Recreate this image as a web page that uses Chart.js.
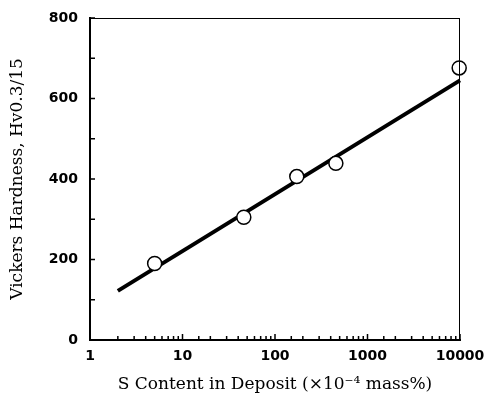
<!DOCTYPE html>
<html>
<head>
<meta charset="utf-8">
<script src="https://cdn.jsdelivr.net/npm/chart.js@4/dist/chart.umd.min.js"></script>
<style>
    html, body { margin: 0; padding: 0; background: #fff; }
    #wrap { width: 484px; height: 397px; }
</style>
</head>
<body>
<div id="wrap"><canvas id="hardnessChart" width="484" height="397"></canvas></div>
<script>
// Measured points (S content x10^-4 mass%, Hv0.3/15)
const sContent = [5, 46, 172, 455, 9800];
const hardness = [190, 305, 406, 439, 676];

// Fitted line end points
const fitX = [2, 10000];
const fitY = [122, 645];

// Axis ticks
const xTickLabels = [1, 10, 100, 1000, 10000];
const yTickLabels = [0, 200, 400, 600, 800];

const serif = '"DejaVu Serif", "Liberation Serif", serif';
const sans = '"DejaVu Sans", "Liberation Sans", sans-serif';

// Inward ticks + thin frame on top and right
const frameTicks = {
    id: 'frameTicks',
    afterDraw(chart) {
        const ctx = chart.ctx;
        const area = chart.chartArea;
        const xs = chart.scales.x;
        const ys = chart.scales.y;
        ctx.save();
        ctx.strokeStyle = '#000';
        ctx.lineWidth = 1;
        ctx.beginPath();
        ctx.moveTo(area.left, area.top + 0.5);
        ctx.lineTo(area.right, area.top + 0.5);
        ctx.moveTo(area.right - 0.5, area.top);
        ctx.lineTo(area.right - 0.5, area.bottom);
        ctx.stroke();

        ctx.lineWidth = 1.5;
        ctx.beginPath();
        xs.ticks.forEach(t => {
            const px = xs.getPixelForValue(t.value);
            const len = xTickLabels.includes(t.value) ? 6 : 4;
            ctx.moveTo(px, area.bottom);
            ctx.lineTo(px, area.bottom - len);
        });
        ys.ticks.forEach(t => {
            const py = ys.getPixelForValue(t.value);
            ctx.moveTo(area.left, py);
            ctx.lineTo(area.left + 5, py);
        });
        ctx.stroke();
        ctx.restore();
    }
};

const chart = new Chart(document.getElementById('hardnessChart'), {
    type: 'scatter',
    data: {
        datasets: [{
            label: 'fit',
            data: fitX.map((x, i) => ({ x: x, y: fitY[i] })),
            showLine: true,
            borderColor: '#000',
            borderWidth: 4,
            pointRadius: 0,
            order: 2
        }, {
            label: 'measured',
            data: sContent.map((x, i) => ({ x: x, y: hardness[i] })),
            showLine: false,
            pointRadius: 7,
            pointBackgroundColor: '#fff',
            pointBorderColor: '#000',
            pointBorderWidth: 1.5,
            order: 1
        }]
    },
    options: {
        responsive: false,
        animation: false,
        clip: false,
        layout: { padding: { top: 18, right: 24, left: 0, bottom: 0 } },
        plugins: {
            legend: { display: false },
            tooltip: { enabled: false }
        },
        scales: {
            x: {
                type: 'logarithmic',
                min: 1,
                max: 10000,
                grid: { display: false, drawTicks: false },
                border: { display: true, color: '#000', width: 2 },
                ticks: {
                    autoSkip: false,
                    maxRotation: 0,
                    padding: 8,
                    color: '#000',
                    font: { family: sans, size: 14, weight: 'bold' },
                    callback: v => xTickLabels.includes(v) ? String(v) : ''
                },
                title: {
                    display: true,
                    text: 'S Content in Deposit (\u00d710\u207b\u2074 mass%)',
                    color: '#000',
                    font: { family: serif, size: 17 },
                    padding: { top: 4, bottom: 2 }
                },
                afterFit: s => {
                    s.height = 57;
                    s.paddingLeft = 0;
                    s.paddingRight = 0;
                }
            },
            y: {
                min: 0,
                max: 800,
                grid: { display: false, drawTicks: false },
                border: { display: true, color: '#000', width: 2 },
                ticks: {
                    stepSize: 100,
                    padding: 12,
                    color: '#000',
                    font: { family: sans, size: 14, weight: 'bold' },
                    callback: v => yTickLabels.includes(v) ? String(v) : ''
                },
                title: {
                    display: true,
                    text: 'Vickers Hardness, Hv0.3/15',
                    color: '#000',
                    font: { family: serif, size: 17 },
                    padding: { top: 7, bottom: 0 }
                },
                afterFit: s => {
                    s.width = 90;
                    s.paddingTop = 0;
                    s.paddingBottom = 0;
                }
            }
        }
    },
    plugins: [frameTicks]
});
</script>
</body>
</html>
